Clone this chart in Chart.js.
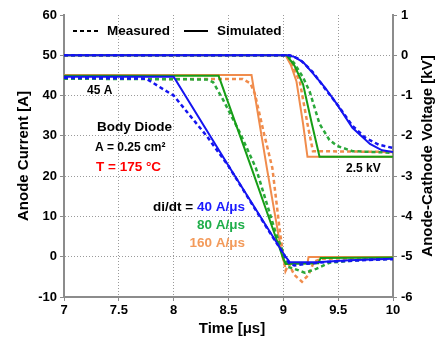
<!DOCTYPE html>
<html>
<head>
<meta charset="utf-8">
<script src="https://cdn.jsdelivr.net/npm/chart.js@4/dist/chart.umd.min.js"></script>
<style>
  html, body { margin: 0; padding: 0; background: #fff; }
</style>
</head>
<body>
<canvas id="chart" width="447" height="341"></canvas>
<script>
// time [us] -> value
// anode current [A], measured (dashed)
const measCurrent40 = [[7, 44.4], [7.75, 44.2], [7.85, 42.5], [8.0, 40], [8.3, 30], [8.5, 22.5], [8.75, 11.5], [8.9, 5], [9.0, 0.8],
  [9.05, -1.5], [9.1, -2.2], [9.2, -1.8], [9.4, -1.3], [9.7, -0.9], [10, -0.6]];
const measCurrent80 = [[7, 44.2], [8.3, 44.0], [8.36, 43.3], [8.45, 39], [8.6, 31], [8.75, 22], [8.93, 6], [9.0, 1],
  [9.04, -2.5], [9.1, -3.0], [9.2, -4.0], [9.3, -3.0], [9.42, -1.5], [9.7, -0.8], [10, -0.5]];
const measCurrent160 = [[7, 44.2], [8.63, 44.1], [8.7, 43], [8.74, 40.5], [8.82, 31], [8.9, 22], [8.97, 6], [9.0, 0],
  [9.02, -3.5], [9.05, -1.8], [9.1, -4.5], [9.17, -6.2], [9.23, -4.5], [9.28, -1.2], [9.35, -0.5], [10, -0.3]];

// anode current [A], simulated (solid)
const simCurrent40 = [[7, 44.7], [8.0, 44.7], [8.5, 22.6], [9.02, 0], [9.06, -1.4], [9.3, -1.4], [9.6, -0.9], [10, -0.5]];
const simCurrent80 = [[7, 44.9], [8.41, 44.9], [8.71, 22], [9.0, -0.5], [9.02, -1.8], [9.32, -1.6], [9.34, -0.3], [10, -0.2]];
const simCurrent160 = [[7, 45.1], [8.71, 45.1], [8.85, 22], [8.99, 0], [9.01, -1.6], [9.22, -1.6], [9.23, -0.1], [10, -0.1]];

// anode-cathode voltage [kV], measured (dashed)
const measVoltage40 = [[7, 0], [9.06, 0], [9.15, -0.1], [9.27, -0.42], [9.4, -0.9], [9.5, -1.25], [9.63, -1.75],
  [9.75, -2.05], [9.87, -2.22], [10, -2.3]];
const measVoltage80 = [[7, 0], [9.04, 0], [9.1, -0.2], [9.18, -0.55], [9.24, -0.9], [9.33, -1.7], [9.42, -2.1],
  [9.49, -2.25], [9.63, -2.38], [10, -2.42]];
const measVoltage160 = [[7, 0], [9.03, 0], [9.09, -0.3], [9.15, -0.65], [9.22, -1.7], [9.27, -2.38], [10, -2.4]];

// anode-cathode voltage [kV], simulated (solid)
const simVoltage40 = [[7, 0], [9.04, 0], [9.1, -0.04], [9.18, -0.17], [9.27, -0.45], [9.38, -0.8], [9.49, -1.22],
  [9.63, -1.8], [9.79, -2.2], [9.9, -2.36], [10, -2.4]];
const simVoltage80 = [[7, 0], [9.03, 0], [9.1, -0.25], [9.18, -0.72], [9.26, -1.7], [9.33, -2.52], [10, -2.52]];
const simVoltage160 = [[7, 0], [9.02, 0], [9.07, -0.25], [9.12, -0.65], [9.18, -1.7], [9.22, -2.52], [10, -2.52]];

const timeTicks = [7, 7.5, 8, 8.5, 9, 9.5, 10];
const currentRange = [-10, 60];
const voltageRange = [-6, 1];

const BLUE = '#1414f0';
const GREEN = '#169e16';
const ORANGE = '#f08c4c';
const FONT = "'Liberation Sans', Arial, sans-serif";

const pts = arr => arr.map(([x, y]) => ({ x, y }));

function series(data, color, dashed, axis) {
  return {
    data: pts(data),
    yAxisID: axis,
    borderColor: color,
    borderWidth: dashed ? 2.5 : 2,
    borderDash: dashed ? [4, 3] : [],
    pointRadius: 0,
    tension: 0,
    fill: false
  };
}

const hideEdges = edges => ctx => (ctx.tick && edges.includes(ctx.tick.value)) ? 'rgba(0,0,0,0)' : '#9a9a9a';

const textPlugin = {
  id: 'texts',
  afterDraw(chart) {
    const c = chart.ctx;
    c.save();
    c.textBaseline = 'middle';
    const t = (s, x, y, size, color, align) => {
      c.font = 'bold ' + size + 'px ' + FONT;
      c.fillStyle = color;
      c.textAlign = align || 'left';
      c.fillText(s, x, y);
    };
    // legend
    c.strokeStyle = '#000';
    c.lineWidth = 2;
    c.setLineDash([4, 3]);
    c.beginPath(); c.moveTo(73, 31); c.lineTo(98, 31); c.stroke();
    c.setLineDash([]);
    c.beginPath(); c.moveTo(184, 31); c.lineTo(208, 31); c.stroke();
    t('Measured', 107, 31, 13.5, '#000');
    t('Simulated', 217, 31, 13.5, '#000');
    // notes
    t('45 A', 87, 91, 12, '#000');
    t('Body Diode', 97, 127, 13.5, '#000');
    t('A = 0.25 cm\u00b2', 95, 148, 12, '#000');
    t('T = 175 \u00b0C', 96, 167, 13.5, '#ff0000');
    t('di/dt =', 153, 207, 13.5, '#000');
    t('40 A/\u03bcs', 245, 207, 13.5, '#1a1aff', 'right');
    t('80 A/\u03bcs', 245, 225, 13.5, '#1fae4a', 'right');
    t('160 A/\u03bcs', 245, 243, 13.5, '#f39a5a', 'right');
    t('2.5 kV', 346, 169, 12, '#000');
    // axis titles
    t('Time [\u03bcs]', 232, 329, 15, '#000', 'center');
    c.save();
    c.translate(24, 156);
    c.rotate(-Math.PI / 2);
    t('Anode Current [A]', 0, 0, 15, '#000', 'center');
    c.restore();
    c.save();
    c.translate(428, 156);
    c.rotate(-Math.PI / 2);
    t('Anode-Cathode Voltage [kV]', 0, 0, 15, '#000', 'center');
    c.restore();
    c.restore();
  }
};

new Chart(document.getElementById('chart'), {
  type: 'line',
  data: {
    datasets: [
      series(simCurrent40, BLUE, false, 'y'),
      series(measCurrent40, BLUE, true, 'y'),
      series(simVoltage40, BLUE, false, 'y2'),
      series(measVoltage40, BLUE, true, 'y2'),
      series(simCurrent80, GREEN, false, 'y'),
      series(measCurrent80, '#2aa83a', true, 'y'),
      series(simVoltage80, GREEN, false, 'y2'),
      series(measVoltage80, '#2aa83a', true, 'y2'),
      series(simCurrent160, ORANGE, false, 'y'),
      series(measCurrent160, ORANGE, true, 'y'),
      series(simVoltage160, ORANGE, false, 'y2'),
      series(measVoltage160, ORANGE, true, 'y2')
    ]
  },
  options: {
    responsive: false,
    animation: false,
    devicePixelRatio: 1,
    layout: { padding: { top: 15, left: 0, right: 0, bottom: 0 } },
    plugins: { legend: { display: false }, tooltip: { enabled: false } },
    scales: {
      x: {
        type: 'linear',
        min: timeTicks[0],
        max: timeTicks[timeTicks.length - 1],
        afterBuildTicks: s => { s.ticks = timeTicks.map(v => ({ value: v })); },
        afterFit: s => { s.height = 44; },
        ticks: { callback: v => String(v), color: '#000', padding: 2, font: { family: FONT, size: 13, weight: 'bold' } },
        grid: { color: hideEdges([7, 10]), lineWidth: 1, tickColor: '#8c8c8c', tickLength: 4 },
        border: { color: '#8c8c8c', width: 2, dash: [1, 2] }
      },
      y: {
        position: 'left',
        min: currentRange[0],
        max: currentRange[1],
        afterFit: s => { s.width = 64; },
        ticks: { stepSize: 10, color: '#000', padding: 3, font: { family: FONT, size: 13, weight: 'bold' } },
        grid: { color: hideEdges([60, -10]), lineWidth: 1, tickColor: '#8c8c8c', tickLength: 4 },
        border: { color: '#8c8c8c', width: 2, dash: [1, 2] }
      },
      y2: {
        position: 'right',
        min: voltageRange[0],
        max: voltageRange[1],
        afterFit: s => { s.width = 54; },
        ticks: { stepSize: 1, color: '#000', padding: 4, font: { family: FONT, size: 13, weight: 'bold' } },
        grid: { drawOnChartArea: false, tickColor: '#8c8c8c', tickLength: 4 },
        border: { color: '#8c8c8c', width: 2 }
      }
    }
  },
  plugins: [textPlugin]
});
</script>
</body>
</html>
